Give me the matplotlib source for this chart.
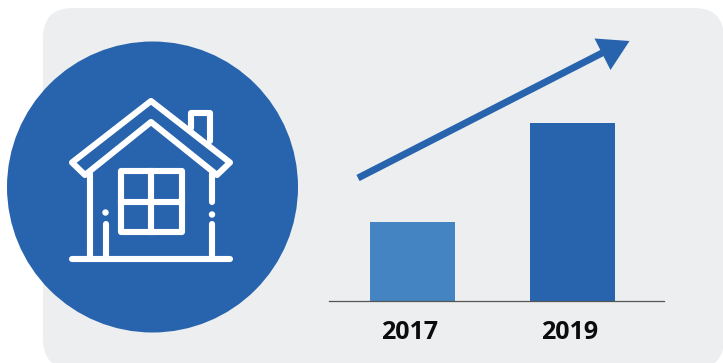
import matplotlib
matplotlib.use('Agg')
import matplotlib.pyplot as plt
from matplotlib.patches import Circle, FancyBboxPatch, Polygon, Rectangle
from matplotlib.transforms import ScaledTranslation

# bar values, as an index with 2019 = 100
years = ['2017', '2019']
values = [44.4, 100]

BLUE = '#2864ae'
LIGHT_BLUE = '#4484c2'
CARD = '#edeef0'
W, H = 723, 363

fig = plt.figure(figsize=(7.23, 3.63), dpi=100, facecolor='white')

# background layer in pixel coordinates, y pointing down
bg = fig.add_axes([0, 0, 1, 1])
bg.set_xlim(0, W)
bg.set_ylim(H, 0)
bg.axis('off')

bg.add_patch(FancyBboxPatch((43 + 30, 8 + 30), 681 - 60, 361 - 60,
                            boxstyle='round,pad=30,rounding_size=30',
                            fc=CARD, ec='none'))
bg.add_patch(Circle((152.5, 187), 145.5, fc=BLUE, ec='none'))

# house icon
lw = 4.4
line = dict(color='white', lw=lw, solid_capstyle='round', solid_joinstyle='round')
roof = Polygon([(72, 162.5), (151, 101), (230, 162.5), (217, 175), (151, 122), (85, 175)],
               closed=True, fc='none', ec='white', lw=lw, joinstyle='round')
bg.add_patch(roof)
bg.plot([191, 191, 209.5, 209.5], [128, 113, 113, 141], **line)
bg.plot([90, 90], [174, 258.5], **line)
bg.plot([212, 212], [174, 202], **line)
bg.plot([212, 212], [224, 258.5], **line)
bg.plot([105.5, 105.5], [224, 258.5], **line)
bg.plot([72, 230], [258.5, 258.5], **line)
bg.add_patch(Circle((105.5, 212.5), 3.2, fc='white', ec='none'))
bg.add_patch(Circle((212, 214.5), 3.2, fc='white', ec='none'))
bg.add_patch(Rectangle((120.5, 171), 61, 61, fc='none', ec='white', lw=lw, joinstyle='round'))
bg.plot([151, 151], [171, 232], color='white', lw=lw)
bg.plot([120.5, 181.5], [201.5, 201.5], color='white', lw=lw)

# trend arrow
bg.plot([358, 606], [178, 51], color=BLUE, lw=5, solid_capstyle='butt')
bg.add_patch(Polygon([(594.5, 38.5), (629.5, 41), (610.5, 70)], closed=True, fc=BLUE, ec='none'))

# bar chart, axes box runs from the baseline to the top of the tallest bar
ax = fig.add_axes([329 / W, 1 - 301 / H, 335 / W, 178 / H])
ax.patch.set_alpha(0)
ax.bar(range(len(years)), values, width=0.53, color=[LIGHT_BLUE, BLUE])
ax.set_xlim(-0.522, 1.572)
ax.set_ylim(0, 100)
ax.set_xticks(range(len(years)))
ax.set_xticklabels(years, fontsize=18, fontweight='bold', family='Open Sans', color='#0c0c0c')
ax.tick_params(axis='x', length=0, pad=14)
# year labels sit a little left of the bar centres
shift = ScaledTranslation(-2.6 / 100, 0, fig.dpi_scale_trans)
for label in ax.get_xticklabels():
    label.set_transform(label.get_transform() + shift)
ax.set_yticks([])
for side in ['top', 'left', 'right']:
    ax.spines[side].set_visible(False)
ax.spines['bottom'].set_color('#555555')
ax.spines['bottom'].set_linewidth(0.9)

plt.savefig('out.png', dpi=100)
